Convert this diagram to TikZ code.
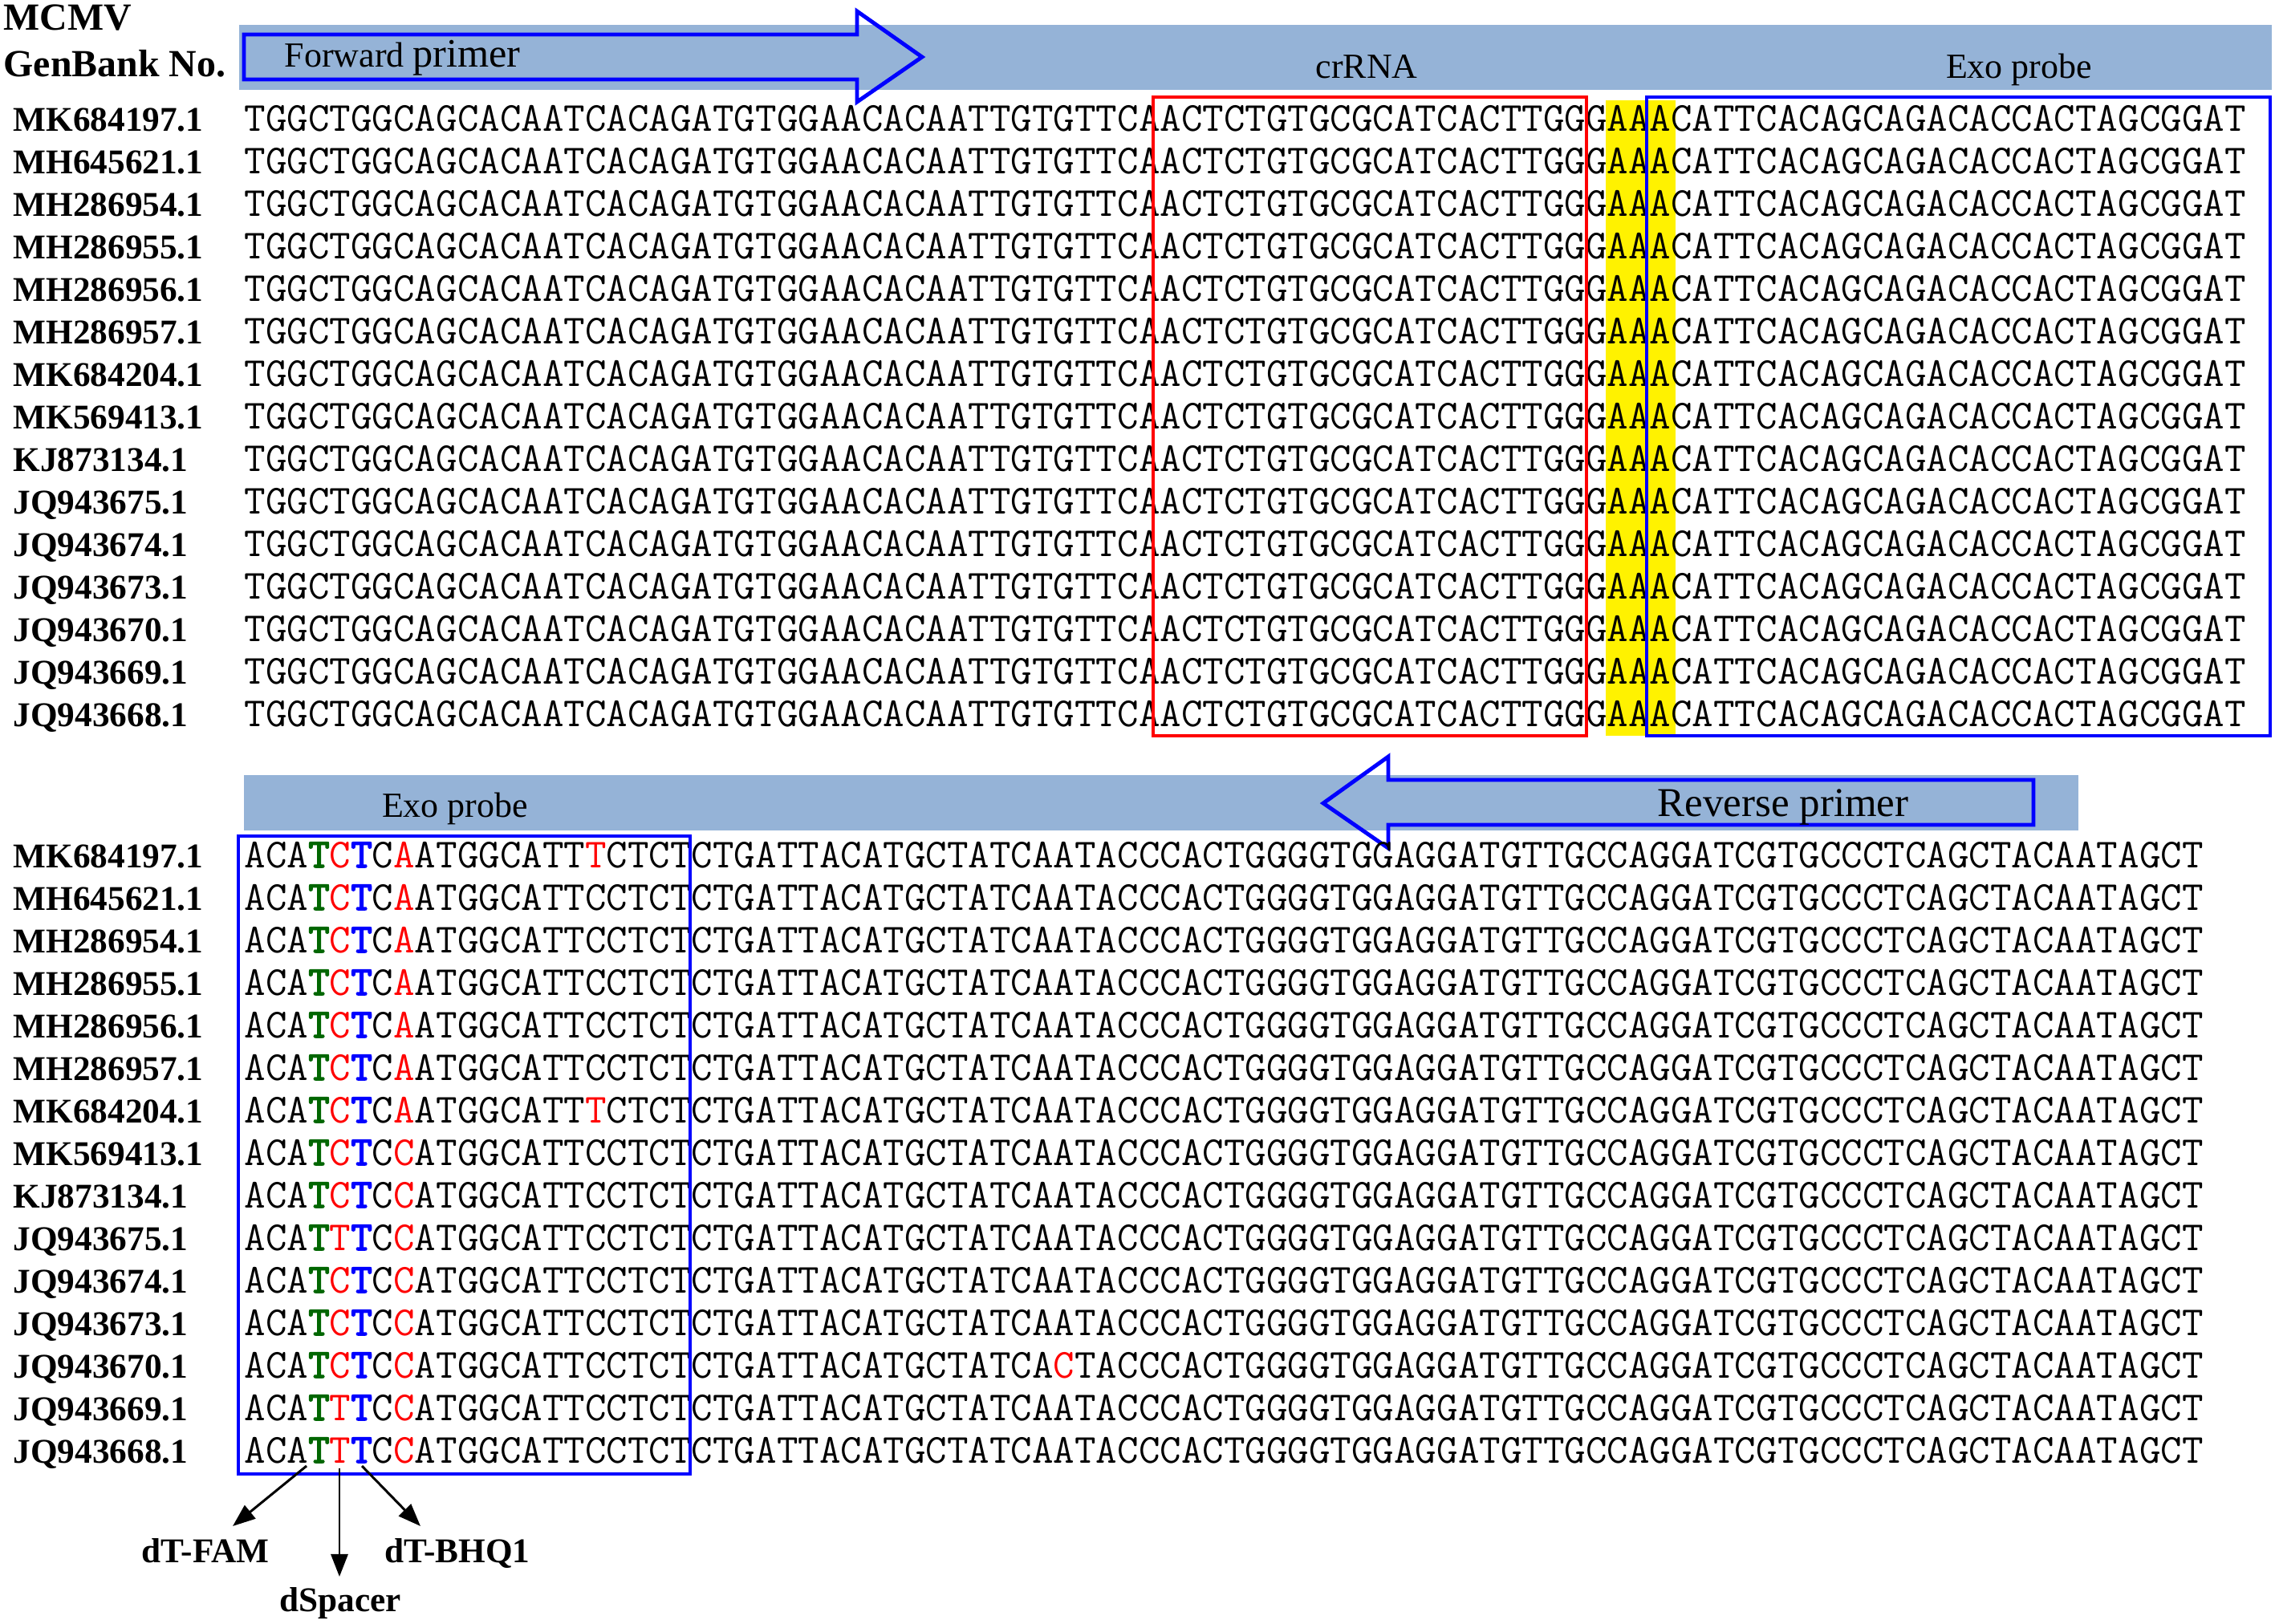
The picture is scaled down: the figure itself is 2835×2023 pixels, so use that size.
\documentclass[tikz,border=0pt]{standalone}
\usepackage{fontspec}
\setmainfont{Liberation Serif}
\newfontface\seqbold[FakeBold=3]{lmmono12-regular.otf}
\usepackage{xcolor}
\usetikzlibrary{arrows.meta, positioning}
\definecolor{bandcolor}{RGB}{149,179,215}
\definecolor{famgreen}{RGB}{0,102,0}
\newcommand{\mm}[1]{\textcolor{red}{#1}}
\newcommand{\famT}{\textcolor{famgreen}{\seqbold\fontsize{14.65}{16}\selectfont T}}
\newcommand{\bhqT}{\textcolor{blue}{\seqbold\fontsize{14.65}{16}\selectfont T}}

\begin{document}
\begin{tikzpicture}[
    x=0.01cm, y=-0.01cm,
    band/.style={fill=bandcolor},
    primer/.style={draw=blue, line width=1.4pt},
    gbno/.style={font=\fontsize{12.3}{14}\selectfont\bfseries, anchor=base west, inner sep=0pt},
    seq/.style={font=\ttfamily\fontsize{14.65}{16}\selectfont, anchor=base west, inner sep=0pt},
    region/.style={font=\fontsize{12.5}{14}\selectfont, anchor=base, inner sep=0pt},
    mod/.style={font=\fontsize{12.3}{14}\selectfont\bfseries, anchor=base, inner sep=0pt},
    modarrow/.style={-{Triangle[length=8pt,width=6pt]}, line width=0.85pt}
]
    \useasboundingbox (0,0) rectangle (2835,2023);

    % upper alignment
    \fill[band] (298,31) rectangle (2831,112);
    \draw[primer] (304,43) -- (1068,43) -- (1068,14) -- (1149,71) -- (1068,127) -- (1068,99) -- (304,99) -- cycle;
    \node[anchor=base west, inner sep=0pt] (fwd) at (354,83) {\fontsize{12.5}{14}\selectfont Forward \fontsize{14.3}{16}\selectfont primer};
    \node[region] (crrna) at (1703,97) {crRNA};
    \node[region] (exo-a) at (2516,97) {Exo probe};
    \node[gbno, font=\fontsize{13.6}{15}\selectfont\bfseries] (mcmv) at (4,37) {MCMV};
    \node[gbno, font=\fontsize{13.6}{15}\selectfont\bfseries] (genbank) at (4,95) {GenBank No.};

    \fill[yellow] (2001,125) rectangle (2088,917);

    \foreach \lab [count=\i from 0] in {MK684197.1, MH645621.1, MH286954.1, MH286955.1, MH286956.1, MH286957.1, MK684204.1, MK569413.1, KJ873134.1, JQ943675.1, JQ943674.1, JQ943673.1, JQ943670.1, JQ943669.1, JQ943668.1} {
        \node[gbno] (lab-a\i) at (16,{163+53*\i}) {\lab};
        \node[seq] (seq-a\i) at (304,{163+53*\i}) {TGGCTGGCAGCACAATCACAGATGTGGAACACAATTGTGTTCAACTCTGTGCGCATCACTTGGGAAACATTCACAGCAGACACCACTAGCGGAT};
    }

    \draw[red, line width=1pt] (1437,121) rectangle (1977,917);
    \draw[blue, line width=1pt] (2052,121) rectangle (2829,917);

    % lower alignment
    \fill[band] (304,966) rectangle (2590,1035);
    \draw[primer] (1649,1001) -- (1730,943) -- (1730,972) -- (2534,972) -- (2534,1028) -- (1730,1028) -- (1730,1057) -- cycle;
    \node[region, font=\fontsize{14.5}{16}\selectfont] (rev) at (2222,1017) {Reverse primer};
    \node[region] (exo-b) at (567,1018) {Exo probe};

    \foreach \lab/\posfive/\poseight/\possvt/\posmid [count=\i from 0] in {
        MK684197.1/C/A/\mm{T}/A, MH645621.1/C/A/C/A, MH286954.1/C/A/C/A, MH286955.1/C/A/C/A,
        MH286956.1/C/A/C/A, MH286957.1/C/A/C/A, MK684204.1/C/A/\mm{T}/A, MK569413.1/C/C/C/A,
        KJ873134.1/C/C/C/A, JQ943675.1/T/C/C/A, JQ943674.1/C/C/C/A, JQ943673.1/C/C/C/A,
        JQ943670.1/C/C/C/\mm{C}, JQ943669.1/T/C/C/A, JQ943668.1/T/C/C/A} {
        \node[gbno] (lab-b\i) at (16,{1081+53*\i}) {\lab};
        \node[seq] (seq-b\i) at (304,{1081+53*\i}) {ACA\famT\mm{\posfive}\bhqT C\mm{\poseight}ATGGCATT\possvt CTCTCTGATTACATGCTATCA\posmid TACCCACTGGGGTGGAGGATGTTGCCAGGATCGTGCCCTCAGCTACAATAGCT};
    }

    \draw[blue, line width=1pt] (297,1042) rectangle (860,1837);

    % probe modifications
    \node[mod] (fam) at (256,1947) {dT-FAM};
    \node[mod] (spacer) at (424,2008) {dSpacer};
    \node[mod] (bhq) at (570,1947) {dT-BHQ1};
    \coordinate (fam-s) at (382,1827);
    \coordinate (fam-e) at (290,1902);
    \coordinate (spacer-s) at (423,1830);
    \coordinate (spacer-e) at (423,1965);
    \coordinate (bhq-s) at (451,1827);
    \coordinate (bhq-e) at (524,1902);
    \draw[modarrow] (fam-s) -- (fam-e);
    \draw[modarrow] (spacer-s) -- (spacer-e);
    \draw[modarrow] (bhq-s) -- (bhq-e);
\end{tikzpicture}
\end{document}
